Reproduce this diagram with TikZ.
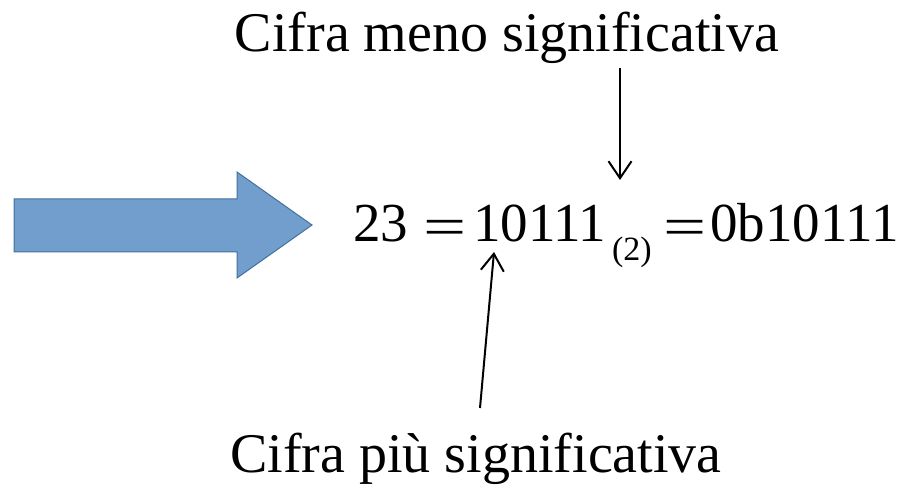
\documentclass[tikz,border=0pt]{standalone}
\usepackage{fontspec}
\setmainfont{Liberation Serif}
\usetikzlibrary{arrows.meta}
\definecolor{arrowfill}{RGB}{114,158,206}
\definecolor{arrowline}{RGB}{65,113,156}
\tikzset{
  bigtext/.style={font=\fontsize{56}{60}\selectfont, inner sep=0pt, outer sep=0pt},
  eqtext/.style={font=\fontsize{55}{60}\selectfont, inner sep=0pt, outer sep=0pt},
  subtext/.style={font=\fontsize{34}{38}\selectfont, inner sep=0pt, outer sep=0pt},
  pointer/.style={line width=2pt, -{Straight Barb[length=17pt,width=23pt,line width=2pt]}},
  blockarrow/.style={fill=arrowfill, draw=arrowline, line width=1pt, line join=miter}
}
\begin{document}
\begin{tikzpicture}[x=1pt,y=-1pt]
\useasboundingbox (0,0) rectangle (908,486);
% block arrow
\draw[blockarrow] (14,199) -- (237,199) -- (237,172) -- (312,225) -- (237,278) -- (237,252) -- (14,252) -- cycle;
% labels
\node[bigtext, anchor=base] (top) at (507,52) {Cifra meno significativa};
\node[bigtext, anchor=base] (bottom) at (476,472) {Cifra più significativa};
% equation
\node[eqtext, anchor=base west] (dec) at (353.4,242) {23};
\node[eqtext, anchor=base] (eqa) at (445.5,246) {\scalebox{1.39}[1]{=}};
\node[eqtext, anchor=base west] (bin) at (473,242) {10111};
\node[subtext, anchor=base west] (base) at (612,261) {(2)};
\node[eqtext, anchor=base] (eqb) at (685.5,246) {\scalebox{1.39}[1]{=}};
\node[eqtext, anchor=base west] (lit) at (710.4,242) {0b10111};
% pointers
\coordinate (dstart) at (620,68);
\coordinate (dend) at (620,180);
\coordinate (ustart) at (480,408);
\coordinate (uend) at (494,252);
\draw[pointer] (dstart) -- (dend);
\draw[pointer] (ustart) -- (uend);
\end{tikzpicture}
\end{document}
